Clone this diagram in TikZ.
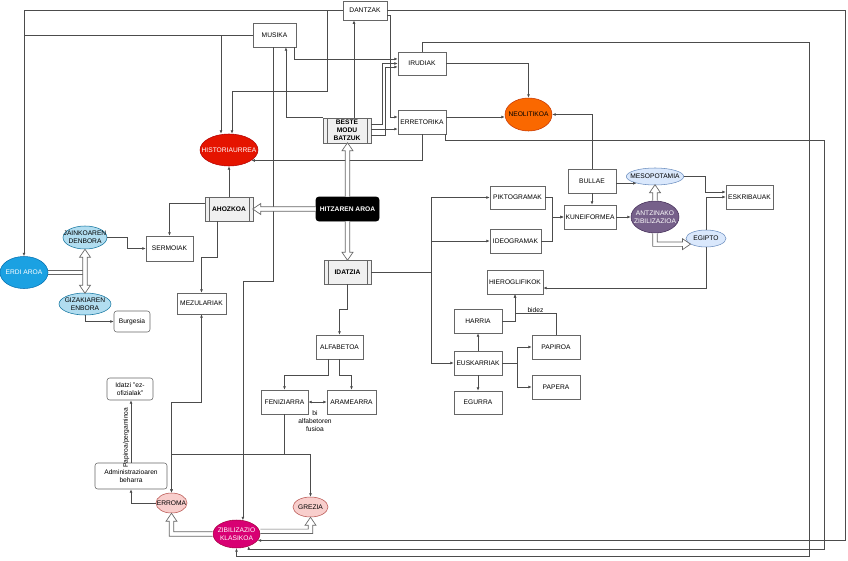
\documentclass[tikz,border=0pt]{standalone}
\usepackage{fontspec}
\setmainfont{Liberation Sans}
\usetikzlibrary{arrows.meta,shapes.geometric}

\definecolor{histred}{HTML}{E51400}
\definecolor{histline}{HTML}{B20000}
\definecolor{neoorange}{HTML}{FA6800}
\definecolor{neoline}{HTML}{C73500}
\definecolor{erdiblue}{HTML}{1BA1E2}
\definecolor{erdiline}{HTML}{006EAF}
\definecolor{denbfill}{HTML}{B1DDF0}
\definecolor{denbline}{HTML}{10739E}
\definecolor{antzfill}{HTML}{DAE8FC}
\definecolor{antzline}{HTML}{6C8EBF}
\definecolor{purple}{HTML}{76608A}
\definecolor{purpleline}{HTML}{432D57}
\definecolor{klasfill}{HTML}{F8CECC}
\definecolor{klasline}{HTML}{B85450}
\definecolor{magenta}{HTML}{D80073}
\definecolor{magline}{HTML}{A50040}

\tikzset{
  box/.style={draw=black!60, fill=white, minimum width=36pt, minimum height=18pt, inner sep=1pt, align=center, font=\fontsize{5}{6}\selectfont},
  rbox/.style={box, rounded corners=2pt},
  proc/.style={box, fill=gray!12, font=\fontsize{5}{6}\selectfont\bfseries,
    path picture={
      \draw[black!60] ([xshift=3pt]path picture bounding box.north west) -- ([xshift=3pt]path picture bounding box.south west);
      \draw[black!60] ([xshift=-3pt]path picture bounding box.north east) -- ([xshift=-3pt]path picture bounding box.south east);}},
  oval/.style={ellipse, draw, inner xsep=-12pt, inner ysep=-5pt, align=center, font=\fontsize{5}{6}\selectfont},
  lbl/.style={inner sep=1pt, align=center, font=\fontsize{5}{6}\selectfont},
  line/.style={draw=black!70, line width=0.5pt},
  conn/.style={line, ->},
  flexline/.style={draw=black!60, line width=0.5pt, fill=white},
  flexarr/.pic={\path[flexline] (0,-2.2) -- (#1-8,-2.2) -- (#1-8,-5.5) -- (#1,0) -- (#1-8,5.5) -- (#1-8,2.2) -- (0,2.2);},
  flexboth/.pic={\path[flexline] (8,-2.2) -- (#1-8,-2.2) -- (#1-8,-5.5) -- (#1,0) -- (#1-8,5.5) -- (#1-8,2.2) -- (8,2.2) -- (8,5.5) -- (0,0) -- (8,-5.5) -- cycle;}
}

\begin{document}
\begin{tikzpicture}[x=0.75pt,y=0.75pt,yscale=-1,xscale=1, >={Latex[length=2.6pt,width=2.2pt]}]
\path[use as bounding box, fill=white] (0,0) rectangle (848,560);

% Boxes
\node[box, minimum width=33pt, minimum height=14.3pt] (dantzak) at (365,10.5) {DANTZAK};
\node[box, minimum width=32.25pt] (musika) at (274.5,35) {MUSIKA};
\node[box, minimum height=17.25pt] (irudiak) at (422,63.5) {IRUDIAK};
\node[box] (erretorika) at (422,122) {ERRETORIKA};
\node[box] (bullae) at (592,181) {BULLAE};
\node[box, minimum width=41.25pt, minimum height=17.25pt] (pikto) at (517.5,197.5) {PIKTOGRAMAK};
\node[box, minimum width=38.25pt] (ideo) at (515.5,241) {IDEOGRAMAK};
\node[box, minimum width=39pt] (kune) at (590,217) {KUNEIFORMEA};
\node[box, minimum width=35.25pt] (esk) at (749.5,197) {ESKRIBAUAK};
\node[box, minimum width=42pt] (hiero) at (515,282) {HIEROGLIFIKOK};
\node[box] (harria) at (478,321) {HARRIA};
\node[box] (eusk) at (478,363) {EUSKARRIAK};
\node[box, minimum height=17.25pt] (egurra) at (478,402.5) {EGURRA};
\node[box] (papiroa) at (556,347) {PAPIROA};
\node[box] (papera) at (556,387) {PAPERA};
\node[box, minimum width=35.25pt, minimum height=18.75pt] (serm) at (169.5,248.5) {SERMOIAK};
\node[box, minimum width=36.75pt, minimum height=15.75pt] (mezu) at (201.5,303.5) {MEZULARIAK};
\node[box, minimum width=35.25pt] (alfa) at (339.5,347) {ALFABETOA};
\node[box, minimum width=35.25pt] (fen) at (284.5,402) {FENIZIARRA};
\node[box, minimum width=36.75pt] (ara) at (351.5,402) {ARAMEARRA};

% Rounded boxes
\node[rbox, minimum width=27pt, minimum height=15.75pt] (burg) at (132,321.5) {Burgesia};
\node[rbox, minimum width=34.5pt, minimum height=16.5pt] (idatzi) at (130,389) {Idatzi "ez-\\ofizialak"};
\node[rbox, minimum width=54pt, minimum height=19.5pt] (admin) at (131,476) {Administrazioaren\\beharra};

% Process boxes
\node[proc, minimum height=18.75pt] (beste) at (347,130.5) {BESTE\\MODU\\BATZUK};
\node[proc] (ahoz) at (229,209) {AHOZKOA};
\node[proc, minimum width=35.25pt] (idatzia) at (347.5,272) {IDATZIA};
\node[box, fill=black, draw=black, text=white, rounded corners=2pt, font=\fontsize{5}{6}\selectfont\bfseries, minimum width=47.25pt] (hitz) at (347.5,209) {HITZAREN AROA};

% Ellipses
\node[oval, fill=histred, draw=histline, text=white, minimum width=43.5pt, minimum height=24pt] (hist) at (229,150) {HISTORIAURREA};
\node[oval, fill=neoorange, draw=neoline, minimum width=35.25pt, minimum height=24.75pt] (neo) at (528.5,114.5) {NEOLITIKOA};
\node[oval, fill=erdiblue, draw=erdiline, text=white, minimum width=36pt, minimum height=24pt] (erdi) at (24,272.5) {ERDI AROA};
\node[oval, fill=denbfill, draw=denbline, minimum width=33pt, minimum height=17.25pt] (jainko) at (85,237.5) {JAINKOAREN\\DENBORA};
\node[oval, fill=denbfill, draw=denbline, minimum width=39pt, minimum height=16.5pt] (giza) at (85,304) {GIZAKIAREN\\ENBORA};
\node[oval, fill=antzfill, draw=antzline, minimum width=43pt, minimum height=12.75pt] (meso) at (655,176.5) {MESOPOTAMIA};
\node[oval, fill=purple, draw=purpleline, text=white, minimum width=36pt, minimum height=24pt] (antz) at (655,217) {ANTZINAKO\\ZIBILIZAZIOA};
\node[oval, fill=antzfill, draw=antzline, minimum width=30pt, minimum height=12.75pt] (egipto) at (706,238.5) {EGIPTO};
\node[oval, fill=klasfill, draw=klasline, minimum width=23.25pt, minimum height=15pt] (erroma) at (171.5,503) {ERROMA};
\node[oval, fill=klasfill, draw=klasline, minimum width=26.25pt, minimum height=15pt] (grezia) at (310.5,507) {GREZIA};
\node[oval, fill=magenta, draw=magline, text=white, minimum width=35.25pt, minimum height=21pt] (zib) at (236.5,534) {ZIBILIZAZIO\\KLASIKOA};

% Connectors, top
\draw[conn] (dantzak.west) -| (erdi.north);
\draw[line] (musika.west) -- (musika.west -| erdi.north);
\draw[conn] (musika.west) -| ([xshift=-6pt]hist.north);
\draw[conn] (dantzak.west) -- ++(-15,0) -- ++(0,81) -| ([xshift=2.25pt]hist.north);
\draw[conn] ([xshift=-1.5pt]musika.south east) |- ([yshift=-3.4pt]irudiak.west);
\draw[conn] ([xshift=5.25pt]beste.north) -- ([xshift=5.25pt]beste.north |- dantzak.south);
\draw[conn] (beste.north west) -| ([xshift=8.6pt]musika.south);
\draw[conn] ([yshift=-4.9pt]beste.east) -- ++(11,0) |- (irudiak.west);
\draw[conn] ([yshift=3.4pt]beste.east) -- ++(14,0) |- ([yshift=2.6pt]irudiak.west);
\draw[conn] ([yshift=-1.1pt]beste.east) -- ([yshift=-1.1pt]beste.east -| erretorika.west);
\draw[conn] ([yshift=3.75pt]dantzak.east) -- ++(3,0) |- ([yshift=-3.75pt]erretorika.west);
\draw[conn] (irudiak.east) -| (neo.north);
\draw[conn] ([yshift=-3.75pt]erretorika.east) -- ([yshift=-3.75pt]erretorika.east -| neo.west);
\draw[conn] (erretorika.south) |- (hist.-25);

% Connectors, outer loops
\draw[conn] (dantzak.east) -- ++(458,0) |- (zib.-17);
\draw[conn] ([xshift=-0.75pt]erretorika.south east) -- ++(0,6) -- ++(379,0) -- ++(0,409) -| (zib.-45);
\draw[conn] (irudiak.north) -- ++(0,-9) -- ++(387,0) -- ++(0,514) -| (zib.south);
\draw[conn] ([xshift=-1pt]musika.south) -- ++(0,234) -| (zib.65);

% Connectors, right
\draw[conn] (bullae.north) |- (neo.east);
\draw[conn] (bullae.south) -- (bullae.south |- kune.north);
\draw[conn] (bullae.east |- meso.200) -- (meso.200);
\draw[conn] (meso.east) -- ++(21,0) |- ([yshift=-3.75pt]esk.west);
\draw[conn] (egipto.north) |- (esk.west);
\draw[conn] (egipto.south) |- ([yshift=4.5pt]hiero.east);
\draw[conn] (pikto.east) -- ++(7,0) |- (kune.west);
\draw[conn] (ideo.east) -- ++(11,0) |- (kune.west);
\draw[conn] (kune.east) -- (antz.west);
\draw[conn] (idatzia.east) -- ++(60,0) |- (pikto.west);
\draw[conn] (idatzia.east) -- ++(60,0) |- (ideo.west);
\draw[conn] (idatzia.east) -- ++(60,0) |- (eusk.west);
\draw[conn] (eusk.north) -- (harria.south);
\draw[conn] (eusk.south) -- (egurra.north);
\draw[conn] (eusk.east) -- ++(15,0) |- (papiroa.west);
\draw[conn] (eusk.east) -- ++(15,0) |- (papera.west);
\draw[conn] (harria.east) -| (hiero.south);
\draw[conn] (papiroa.north) -- ++(0,-21) -| (hiero.south) node[lbl, pos=0.25, above] (bidez) {bidez};

% Connectors, left
\draw[conn] (ahoz.north) -- (hist.south);
\draw[conn] ([yshift=-4.5pt]ahoz.west) -| (serm.north);
\draw[conn] ([xshift=-9pt]ahoz.south) -- ++(0,36) -| (mezu.north);
\draw[conn] (jainko.east) -- ++(20,0) |- (serm.west);
\draw[conn] (giza.south) |- (burg.west);

% Connectors, bottom
\draw[conn] (idatzia.south) -- ++(0,25) -| (alfa.north);
\draw[conn] ([xshift=-8.25pt]alfa.south) -- ++(0,16) -| (fen.north);
\draw[conn] (alfa.south) -- ++(0,16) -| (ara.north);
\draw[line, <->] (fen.east) -- (ara.west);
\node[lbl] (fusioa) at (315,421) {bi\\alfabetoren\\fusioa};
\draw[conn] (fen.south) -- ++(0,40) -| (grezia.north);
\draw[conn] (fen.south) -- ++(0,40) -| (erroma.north);
\draw[line, <->] (erroma.north) -- ++(0,-90) -| (mezu.south);
\draw[conn] (erroma.west) -| (admin.south);
\draw[conn] (admin.north) -- (admin.north |- idatzi.south) node[lbl, pos=0.4, rotate=90, anchor=south] (pergam) {Papiroa/pergaminoa};

% Hollow arrows
\pic[rotate=180] at (hitz.west) {flexarr=63};
\pic[rotate=90] at (hitz.north) {flexarr=54};
\pic[rotate=-90] at (hitz.south) {flexarr=39};
\pic[rotate=90] at (antz.north) {flexarr=16};
\pic[rotate=-90] at (jainko.south) {flexboth=44};
\draw[flexline] ([yshift=-1.65pt]erdi.east) -- ([xshift=-1.65pt, yshift=-1.65pt]erdi.east -| jainko.south);
\draw[flexline] ([yshift=1.65pt]erdi.east) -- ([xshift=-1.65pt, yshift=1.65pt]erdi.east -| jainko.south);
\coordinate (cegipto) at (antz.south |- egipto.200);
\path[flexline] ([xshift=-1.65pt]antz.south) -- ([xshift=-1.65pt, yshift=1.65pt]cegipto) -- ([xshift=-6pt, yshift=1.65pt]egipto.200) -- ([xshift=-6pt, yshift=4.1pt]egipto.200) -- (egipto.200) -- ([xshift=-6pt, yshift=-4.1pt]egipto.200) -- ([xshift=-6pt, yshift=-1.65pt]egipto.200) -- ([xshift=1.65pt, yshift=-1.65pt]cegipto) -- ([xshift=1.65pt]antz.south);
\coordinate (cerroma) at (erroma.south |- zib.west);
\path[flexline] ([yshift=-1.65pt]zib.west) -- ([xshift=1.65pt, yshift=-1.65pt]cerroma) -- ([xshift=1.65pt, yshift=6pt]erroma.south) -- ([xshift=4.1pt, yshift=6pt]erroma.south) -- (erroma.south) -- ([xshift=-4.1pt, yshift=6pt]erroma.south) -- ([xshift=-1.65pt, yshift=6pt]erroma.south) -- ([xshift=-1.65pt, yshift=1.65pt]cerroma) -- ([yshift=1.65pt]zib.west);
\coordinate (zgstart) at ([yshift=-2pt]zib.east);
\coordinate (cgrezia) at (grezia.south |- zgstart);
\path[flexline] ([yshift=-1.65pt]zgstart) -- ([xshift=-1.65pt, yshift=-1.65pt]cgrezia) -- ([xshift=-1.65pt, yshift=6pt]grezia.south) -- ([xshift=-4.1pt, yshift=6pt]grezia.south) -- (grezia.south) -- ([xshift=4.1pt, yshift=6pt]grezia.south) -- ([xshift=1.65pt, yshift=6pt]grezia.south) -- ([xshift=1.65pt, yshift=1.65pt]cgrezia) -- ([yshift=1.65pt]zgstart);

\end{tikzpicture}
\end{document}
